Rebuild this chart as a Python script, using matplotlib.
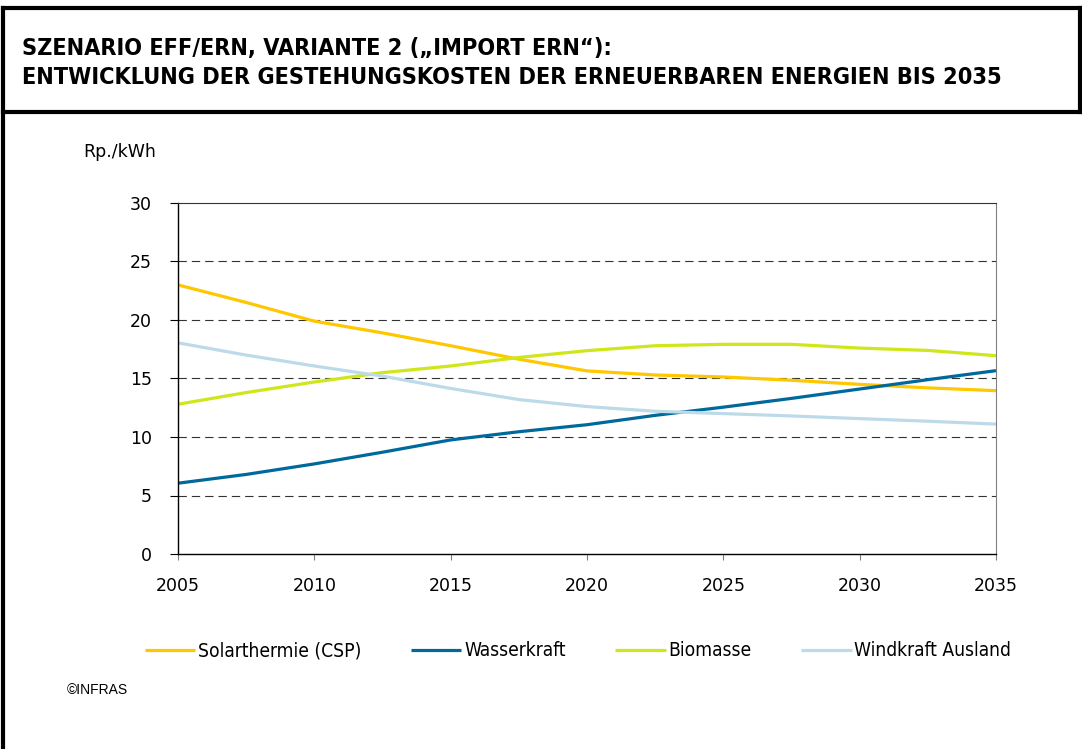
import matplotlib
matplotlib.use('Agg')
import matplotlib.pyplot as plt
from matplotlib.lines import Line2D

# data (Rp./kWh), every 2.5 years
years = [2005, 2007.5, 2010, 2012.5, 2015, 2017.5, 2020,
         2022.5, 2025, 2027.5, 2030, 2032.5, 2035]
solar = [23.0, 21.5, 19.9, 18.9, 17.8, 16.65, 15.65,
         15.3, 15.13, 14.85, 14.5, 14.2, 13.96]
wasser = [6.05, 6.8, 7.7, 8.7, 9.75, 10.45, 11.05,
          11.85, 12.55, 13.3, 14.1, 14.9, 15.67]
biomasse = [12.8, 13.8, 14.7, 15.5, 16.07, 16.8, 17.38,
            17.8, 17.92, 17.92, 17.6, 17.4, 16.95]
windkraft = [18.05, 17.0, 16.07, 15.2, 14.15, 13.2, 12.6,
             12.2, 12.0, 11.8, 11.57, 11.35, 11.1]

labels = ['Solarthermie (CSP)', 'Wasserkraft', 'Biomasse', 'Windkraft Ausland']
colors = ['#FFC700', '#00699C', '#CFE61A', '#BDDAE8']

title = 'SZENARIO EFF/ERN, VARIANTE 2 (\u201eIMPORT ERN\u201c):\nENTWICKLUNG DER GESTEHUNGSKOSTEN DER ERNEUERBAREN ENERGIEN BIS 2035'

W, H = 1082, 749
fig = plt.figure(figsize=(W / 100, H / 100), dpi=100)

# frame around everything
def fline(x0, y0, x1, y1, lw=3):
    fig.add_artist(Line2D([x0 / W, x1 / W], [1 - y0 / H, 1 - y1 / H],
                          transform=fig.transFigure, color='black', lw=lw))

fline(3, 8, 1080, 8)
fline(3, 8, 3, 749)
fline(1080, 8, 1080, 112)
fline(3, 112, 1080, 112)

fig.text(22 / W, 1 - 63 / H, title, fontsize=16.8, fontweight='bold',
         fontstretch='condensed', va='center', ha='left', linespacing=1.38)

ax = fig.add_axes([178 / W, 1 - 554 / H, (996 - 178) / W, (554 - 203) / H])
for vals, lab, c in zip([solar, wasser, biomasse, windkraft], labels, colors):
    ax.plot(years, vals, color=c, lw=2.3, label=lab, solid_capstyle='butt')

ax.set_xlim(2005, 2035)
ax.set_ylim(0, 30)
ax.set_xticks(range(2005, 2036, 5))
ax.set_yticks(range(0, 31, 5))
for y in range(5, 30, 5):
    ax.axhline(y, color='#333333', lw=0.8, ls=(0, (7.5, 4.5)), zorder=0)
ax.spines['top'].set_color('#333333')
ax.spines['top'].set_linewidth(0.8)
ax.spines['right'].set_color('#808080')
ax.spines['left'].set_linewidth(1.0)
ax.spines['bottom'].set_linewidth(1.0)
ax.tick_params(axis='y', labelsize=12.5, length=5.8, width=0.8, pad=13)
ax.tick_params(axis='x', labelsize=12.5, length=4.3, width=0.8, color='#808080',
               labelcolor='black', pad=12)

fig.text(156 / W, 1 - 152 / H, 'Rp./kWh', fontsize=12.5, ha='right', va='center')

leg = fig.legend(loc='center', bbox_to_anchor=(578 / W, 1 - 651 / H), ncol=4,
                 frameon=False, fontsize=13.8, handlelength=2.62, handletextpad=0.15,
                 columnspacing=2.6)
for t in leg.get_texts():
    t.set_fontstretch('condensed')

fig.text(67 / W, 1 - 690 / H, '\u00a9INFRAS', fontsize=10, ha='left', va='center',
         family='Liberation Sans')

fig.savefig('out.png', dpi=100)
